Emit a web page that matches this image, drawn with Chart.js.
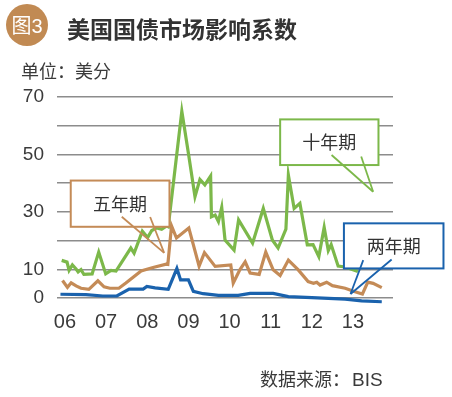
<!DOCTYPE html>
<html>
<head>
<meta charset="utf-8">
<script src="https://cdn.jsdelivr.net/npm/chart.js@4.4.1/dist/chart.umd.min.js"></script>
<style>
  body { margin: 0; background: #fff; }
  #wrap { position: relative; width: 452px; height: 397px; overflow: hidden;
          font-family: "Noto Sans CJK SC", sans-serif; color: #333; }
  #chart { position: absolute; left: 0; top: 0; }
  .badge { position: absolute; left: 6px; top: 4px; width: 42px; height: 42px; border-radius: 50%;
           background: #c18a53; color: #fff; font-size: 20px; line-height: 42px; text-align: center; }
  .badge span, .source span { font-family: "Liberation Sans", Arial, sans-serif; }
  .title { position: absolute; left: 67px; top: 15px; font-size: 23px; font-weight: bold; line-height: 26px; color: #333; }
  .unit { position: absolute; left: 21px; top: 59px; font-size: 18px; line-height: 22px; color: #3a3a3a; }
  .source { position: absolute; left: 260px; top: 367px; font-size: 18px; line-height: 22px; color: #3a3a3a; }
  .source span { font-size: 19px; margin-left: 2px; }
</style>
</head>
<body>
<div id="wrap">
  <canvas id="chart" width="452" height="397"></canvas>
  <div class="badge">图<span>3</span></div>
  <div class="title">美国国债市场影响系数</div>
  <div class="unit">单位：美分</div>
  <div class="source">数据来源：<span>BIS</span></div>
</div>
<script>
// years shown on the x axis
const years = [2006, 2007, 2008, 2009, 2010, 2011, 2012, 2013];
// y labels that are printed (gridlines every 10)
const yLabels = [0, 10, 30, 50, 70];

// 十年期
const tenYearX = [2005.92, 2006.05, 2006.10, 2006.18, 2006.27, 2006.32, 2006.39, 2006.46, 2006.66, 2006.82,
  2006.99, 2007.12, 2007.24, 2007.60, 2007.68, 2007.88, 2008.01, 2008.11, 2008.23, 2008.35,
  2008.47, 2008.51, 2008.84, 2009.00, 2009.16, 2009.28, 2009.40, 2009.54, 2009.56, 2009.65,
  2009.73, 2009.81, 2009.89, 2010.11, 2010.22, 2010.56, 2010.82, 2011.04, 2011.18, 2011.37,
  2011.43, 2011.57, 2011.71, 2011.89, 2012.03, 2012.17, 2012.30, 2012.40, 2012.47, 2012.64,
  2012.81, 2013.12];
const tenYear = [13.1, 12.5, 9.6, 11.5, 10.1, 9.1, 9.9, 8.2, 8.4, 16.0,
  8.4, 9.6, 9.4, 17.4, 15.6, 23.3, 21.1, 23.5, 24.4, 23.9,
  25.1, 24.8, 65.0, 50.4, 35.3, 41.3, 39.4, 42.5, 28.3, 28.9,
  26.6, 31.6, 20.2, 16.7, 27.2, 19.1, 31.2, 20.2, 17.4, 24.0,
  42.8, 31.2, 33.0, 18.5, 18.6, 14.4, 24.6, 16.5, 18.6, 11.1,
  10.8, 9.2];

// 五年期
const fiveYearX = [2005.94, 2006.06, 2006.15, 2006.27, 2006.39, 2006.58, 2006.80, 2006.95, 2007.09, 2007.31,
  2007.48, 2007.85, 2008.14, 2008.46, 2008.50, 2008.59, 2008.71, 2009.01, 2009.26, 2009.39,
  2009.65, 2010.03, 2010.09, 2010.25, 2010.38, 2010.50, 2010.72, 2010.88, 2011.06, 2011.23,
  2011.43, 2011.67, 2011.91, 2012.04, 2012.12, 2012.20, 2012.36, 2012.50, 2012.81, 2013.05,
  2013.23, 2013.36, 2013.49, 2013.70];
const fiveYear = [6.1, 3.7, 5.3, 4.2, 3.4, 3.0, 6.0, 3.9, 3.4, 3.4,
  5.2, 9.4, 10.6, 11.8, 11.7, 25.1, 20.9, 24.4, 11.1, 15.8,
  11.0, 11.5, 5.2, 9.8, 12.6, 8.7, 8.2, 16.0, 9.8, 7.8,
  13.2, 9.8, 5.7, 5.1, 5.5, 4.5, 5.5, 4.3, 3.4, 2.2,
  1.4, 5.5, 5.1, 3.6];

// 两年期
const twoYearX = [2005.89, 2006.51, 2006.92, 2007.26, 2007.56, 2007.90, 2007.99, 2008.19, 2008.51, 2008.72,
  2008.81, 2009.00, 2009.12, 2009.36, 2009.73, 2010.21, 2010.50, 2011.06, 2011.43, 2012.00,
  2012.81, 2013.21, 2013.70];
const twoYear = [1.3, 1.15, 0.7, 0.7, 3.1, 3.1, 4.0, 3.5, 3.0, 10.3,
  6.3, 6.3, 2.3, 1.5, 0.9, 0.9, 1.6, 1.6, 0.5, 0.1,
  -0.4, -1.0, -1.3];

const GREEN = '#7cb84a';
const BROWN = '#c48b57';
const BLUE = '#1a62ad';

function points(xs, ys) {
    return xs.map((x, i) => ({ x: x, y: ys[i] }));
}

// callout boxes, in axis units: box = [x1, yTop, x2, yBottom]
const callouts = [
    { text: '五年期', color: BROWN, box: [2006.14, 40.9, 2008.54, 24.8],
      base: [[2007.38, 28.3], [2008.07, 28.2]], tip: [2008.41, 15.7] },
    { text: '十年期', color: GREEN, box: [2011.23, 62.2, 2013.62, 46.3],
      base: [[2012.48, 49.8], [2013.20, 49.3]], tip: [2013.49, 37.0] },
    { text: '两年期', color: BLUE, box: [2012.78, 26.0, 2015.2, 10.3],
      base: [[2013.25, 13.2], [2013.94, 13.4]], tip: [2012.94, 1.4] }
];

const calloutPlugin = {
    id: 'callouts',
    afterDatasetsDraw(chart) {
        const ctx = chart.ctx;
        const xs = chart.scales.x, ys = chart.scales.y;
        ctx.save();
        callouts.forEach(c => {
            const x1 = xs.getPixelForValue(c.box[0]), y1 = ys.getPixelForValue(c.box[1]);
            const x2 = xs.getPixelForValue(c.box[2]), y2 = ys.getPixelForValue(c.box[3]);
            ctx.fillStyle = '#fff';
            ctx.fillRect(x1, y1, x2 - x1, y2 - y1);
            ctx.strokeStyle = c.color;
            ctx.lineWidth = 2;
            ctx.strokeRect(x1, y1, x2 - x1, y2 - y1);
            ctx.fillStyle = '#333';
            ctx.font = '18px "Noto Sans CJK SC"';
            ctx.textAlign = 'center';
            ctx.textBaseline = 'middle';
            ctx.fillText(c.text, (x1 + x2) / 2, (y1 + y2) / 2);
            const tx = xs.getPixelForValue(c.tip[0]), ty = ys.getPixelForValue(c.tip[1]);
            ctx.lineWidth = 1.8;
            c.base.forEach(b => {
                ctx.beginPath();
                ctx.moveTo(xs.getPixelForValue(b[0]), ys.getPixelForValue(b[1]));
                ctx.lineTo(tx, ty);
                ctx.stroke();
            });
        });
        ctx.restore();
    }
};

const lineStyle = { borderWidth: 3.2, pointRadius: 0, tension: 0, fill: false, clip: false };

new Chart(document.getElementById('chart'), {
    type: 'line',
    data: {
        datasets: [
            Object.assign({ label: '十年期', data: points(tenYearX, tenYear), borderColor: GREEN }, lineStyle),
            Object.assign({ label: '五年期', data: points(fiveYearX, fiveYear), borderColor: BROWN }, lineStyle),
            Object.assign({ label: '两年期', data: points(twoYearX, twoYear), borderColor: BLUE }, lineStyle)
        ]
    },
    options: {
        responsive: false,
        animation: false,
        devicePixelRatio: 1,
        layout: { padding: { left: 0, right: 59, top: 97, bottom: 0 } },
        plugins: { legend: { display: false }, tooltip: { enabled: false } },
        scales: {
            x: {
                type: 'linear',
                min: 2005.806,
                max: 2013.973,
                afterBuildTicks: s => { s.ticks = years.map(v => ({ value: v })); },
                afterFit: s => { s.height = 99; },
                grid: { display: false, drawTicks: false },
                border: { display: false },
                ticks: {
                    padding: 12,
                    color: '#3a3a3a',
                    font: { family: '"Liberation Sans", Arial, sans-serif', size: 20 },
                    maxRotation: 0,
                    callback: v => String(v).slice(2)
                }
            },
            y: {
                min: 0,
                max: 70,
                afterFit: s => { s.width = 57; },
                grid: { color: '#8c8c8c', lineWidth: 1.5, drawTicks: false },
                border: { display: false },
                ticks: {
                    stepSize: 10,
                    padding: 13,
                    color: '#3a3a3a',
                    font: { family: '"Liberation Sans", Arial, sans-serif', size: 19 },
                    callback: v => yLabels.includes(v) ? String(v) : ''
                }
            }
        }
    },
    plugins: [calloutPlugin]
});
</script>
</body>
</html>
